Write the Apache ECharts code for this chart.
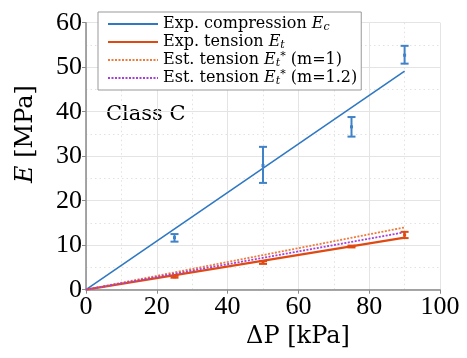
<!DOCTYPE html>
<html>
<head>
<meta charset="utf-8">
<script src="https://cdn.jsdelivr.net/npm/echarts@6/dist/echarts.min.js"></script>
<style>html,body{margin:0;padding:0;background:#fff}#c{width:467px;height:358px}</style>
</head>
<body>
<div id="c"></div>
<script>
// Data
const pressure = [25, 50, 75, 90];
const compMean = [11.7, 27.9, 36.6, 52.7];
const compLow  = [10.8, 24.0, 34.4, 50.8];
const compHigh = [12.5, 32.1, 38.8, 54.8];
const tensMean = [2.9, 6.1, 9.7, 12.3];
const tensLow  = [2.7, 5.8, 9.5, 11.6];
const tensHigh = [3.1, 6.4, 9.9, 13.0];
const fitX    = [0, 90];
const fitComp = [0, 49.1];
const fitTens = [0, 11.7];
const estM1   = [0, 14.0];
const estM12  = [0, 12.9];
const xTicks = [0, 20, 40, 60, 80, 100];
const yTicks = [0, 10, 20, 30, 40, 50, 60];
const seriesNames = ['Exp. compression', 'Exp. tension', 'Est. tension m1', 'Est. tension m12'];

const FONT = '"Liberation Serif", serif';
const DFONT = '"DejaVu Serif", serif';
const BLUE = '#2f78c2';
const BLUE_ERR = '#3f82c8';
const RED = '#e04a12';
const ORANGE = '#f07a3c';
const PURPLE = '#a63fd6';

const zip = (a, b) => a.map((v, i) => [v, b[i]]);

function errItem(color) {
  return function (params, api) {
    const x = api.value(0);
    const p = api.coord([x, api.value(1)]);
    const lo = api.coord([x, api.value(2)]);
    const hi = api.coord([x, api.value(3)]);
    const cw = 4;
    const st = { stroke: color, lineWidth: 2 };
    return {
      type: 'group',
      children: [
        { type: 'line', shape: { x1: lo[0], y1: lo[1], x2: hi[0], y2: hi[1] }, style: st },
        { type: 'line', shape: { x1: lo[0] - cw, y1: lo[1], x2: lo[0] + cw, y2: lo[1] }, style: st },
        { type: 'line', shape: { x1: hi[0] - cw, y1: hi[1], x2: hi[0] + cw, y2: hi[1] }, style: st },
        { type: 'rect', shape: { x: p[0] - 1.5, y: p[1] - 1.5, width: 3, height: 3 }, style: { fill: color } }
      ]
    };
  };
}

const legendLabels = {
  'Exp. compression': 'Exp. compression {e|E}{s|c}',
  'Exp. tension': 'Exp. tension {e|E}{s|t}',
  'Est. tension m1': 'Est. tension {e|E}{s|t}{p|*} (m=1)',
  'Est. tension m12': 'Est. tension {e|E}{s|t}{p|*} (m=1.2)'
};

const chart = echarts.init(document.getElementById('c'), null, { renderer: 'canvas' });
chart.setOption({
  animation: false,
  grid: { left: 86, right: 27, top: 22.7, bottom: 68.3, containLabel: false },
  xAxis: {
    type: 'value', min: xTicks[0], max: xTicks[xTicks.length - 1], interval: 20,
    axisLine: { show: true, lineStyle: { color: '#8a8a8a', width: 1.5 } },
    axisTick: { show: true, length: 4, lineStyle: { color: '#8a8a8a', width: 1 } },
    axisLabel: { fontFamily: FONT, fontSize: 26, color: '#000', margin: 4 },
    splitLine: { show: true, lineStyle: { color: '#e4e4e4', width: 1 } },
    minorTick: { show: false, splitNumber: 2 },
    minorSplitLine: { show: true, lineStyle: { color: '#e2e2e2', width: 1, type: [1.5, 3] } }
  },
  yAxis: {
    type: 'value', min: yTicks[0], max: yTicks[yTicks.length - 1], interval: 10,
    axisLine: { show: true, lineStyle: { color: '#8a8a8a', width: 1.5 } },
    axisTick: { show: true, length: 4, lineStyle: { color: '#8a8a8a', width: 1 } },
    axisLabel: { fontFamily: FONT, fontSize: 26, color: '#000', margin: 4 },
    splitLine: { show: true, lineStyle: { color: '#e4e4e4', width: 1 } },
    minorTick: { show: false, splitNumber: 2 },
    minorSplitLine: { show: true, lineStyle: { color: '#e2e2e2', width: 1, type: [1.5, 3] } }
  },
  legend: {
    data: seriesNames,
    orient: 'vertical', left: 98, top: 12,
    backgroundColor: '#fff', borderColor: '#999', borderWidth: 1,
    padding: [3, 4, 3, 9], itemGap: 0, itemWidth: 50, itemHeight: 14,
    itemStyle: { opacity: 0 },
    formatter: n => legendLabels[n],
    textStyle: {
      fontFamily: DFONT, fontSize: 16, color: '#000', lineHeight: 18,
      rich: {
        e: { fontFamily: DFONT, fontStyle: 'italic', fontSize: 16, lineHeight: 18 },
        s: { fontFamily: DFONT, fontStyle: 'italic', fontSize: 11, lineHeight: 10, verticalAlign: 'bottom' },
        p: { fontFamily: DFONT, fontSize: 11, lineHeight: 10, verticalAlign: 'top' }
      }
    }
  },
  graphic: [
    { type: 'text', left: 106, top: 104, style: { text: 'Class C', font: '21px ' + DFONT, fill: '#000' } },
    { type: 'text', x: 298, y: 337, style: { text: 'ΔP [kPa]', font: '24px ' + DFONT, fill: '#000', align: 'center', verticalAlign: 'middle' } },
    { type: 'text', x: 26, y: 134, rotation: Math.PI / 2,
      style: { text: '{e|E} [MPa]', font: '24px ' + DFONT, fill: '#000', align: 'center', verticalAlign: 'middle',
        rich: { e: { fontFamily: DFONT, fontSize: 24, fontStyle: 'italic' } } } }
  ],
  series: [
    { name: seriesNames[0], type: 'line', data: zip(fitX, fitComp), symbol: 'none', lineStyle: { color: BLUE, width: 1.6 }, itemStyle: { color: BLUE }, z: 3 },
    { name: seriesNames[1], type: 'line', data: zip(fitX, fitTens), symbol: 'none', lineStyle: { color: RED, width: 2.2 }, itemStyle: { color: RED }, z: 3 },
    { name: seriesNames[2], type: 'line', data: zip(fitX, estM1), symbol: 'none', lineStyle: { color: ORANGE, width: 1.8, type: [2, 1.5] }, itemStyle: { color: ORANGE }, z: 4 },
    { name: seriesNames[3], type: 'line', data: zip(fitX, estM12), symbol: 'none', lineStyle: { color: PURPLE, width: 1.8, type: [2, 1.5] }, itemStyle: { color: PURPLE }, z: 4 },
    { name: 'compErr', type: 'custom', renderItem: errItem(BLUE_ERR), data: pressure.map((x, i) => [x, compMean[i], compLow[i], compHigh[i]]), encode: { x: 0, y: [1, 2, 3] }, z: 5 },
    { name: 'tensErr', type: 'custom', renderItem: errItem(RED), data: pressure.map((x, i) => [x, tensMean[i], tensLow[i], tensHigh[i]]), encode: { x: 0, y: [1, 2, 3] }, z: 5 }
  ]
});
</script>
</body>
</html>
